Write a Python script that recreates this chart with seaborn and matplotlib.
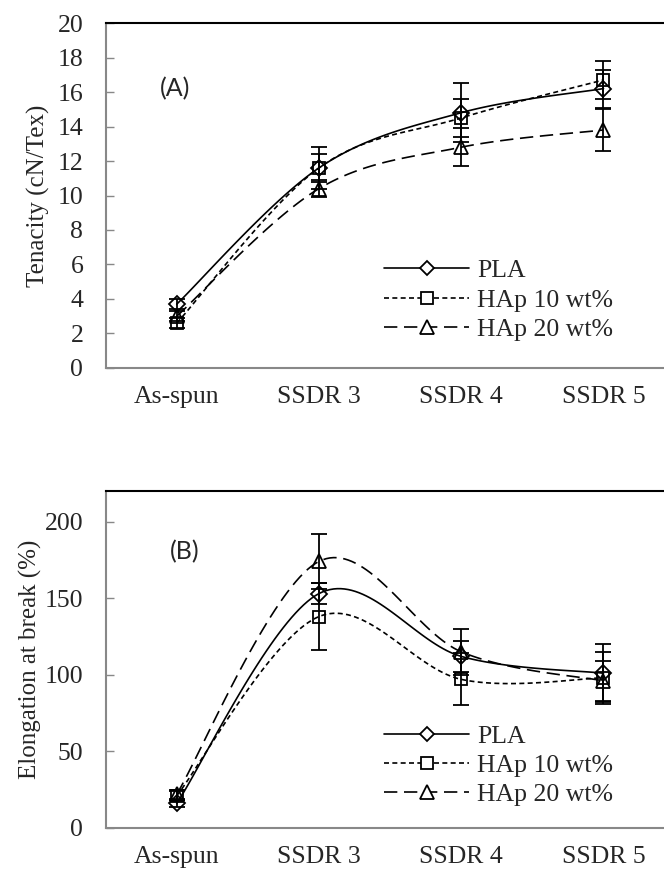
import numpy as np
import matplotlib
matplotlib.use("Agg")
import matplotlib.pyplot as plt
from matplotlib.lines import Line2D
import seaborn as sns

sns.set_style("white")
plt.rcParams['font.family'] = ['Liberation Serif', 'DejaVu Serif']

categories = ["As-spun", "SSDR 3", "SSDR 4", "SSDR 5"]
series = ["PLA", "HAp 10 wt%", "HAp 20 wt%"]

# (A) tenacity, cN/Tex
ten_pla = [3.7, 11.6, 14.8, 16.2]
ten_pla_err = [0.3, 1.2, 1.7, 1.1]
ten_h10 = [2.6, 11.6, 14.5, 16.7]
ten_h10_err = [0.3, 0.8, 1.1, 1.1]
ten_h20 = [3.0, 10.4, 12.8, 13.8]
ten_h20_err = [0.3, 0.5, 1.1, 1.2]

# (B) elongation at break, %
elo_pla = [16, 153, 112, 101]
elo_pla_err = [2, 7, 10, 19]
elo_h10 = [21, 138, 97, 98]
elo_h10_err = [3, 22, 17, 17]
elo_h20 = [22, 174, 115, 96]
elo_h20_err = [3, 18, 15, 13]

markers = ["D", "s", "^"]
msizes = [8, 9, 10.5]
styles = ["-", (0, (3, 2)), (0, (8, 4))]


def smooth(xv, yv, n=40):
    # excel-like smoothed line (bezier through the points)
    pts = np.column_stack([xv, yv]).astype(float)
    out = []
    for i in range(len(pts) - 1):
        p0 = pts[max(i - 1, 0)]
        p1 = pts[i]
        p2 = pts[i + 1]
        p3 = pts[min(i + 2, len(pts) - 1)]
        c1 = p1 + (p2 - p0) / 6
        c2 = p2 - (p3 - p1) / 6
        t = np.linspace(0, 1, n)[:, None]
        seg = (1 - t)**3 * p1 + 3 * (1 - t)**2 * t * c1 + 3 * (1 - t) * t**2 * c2 + t**3 * p2
        out.append(seg if i == 0 else seg[1:])
    return np.vstack(out)


def panel(ax, data, errs, ylim, yticks, ylabel, tag, tagpos, legpos):
    x = np.arange(len(categories))
    for k in range(3):
        sm = smooth(x, data[k])
        sns.lineplot(x=sm[:, 0], y=sm[:, 1], ax=ax, color="black", linewidth=1.2,
                     linestyle=styles[k], sort=False, estimator=None, zorder=2)
    for k in range(3):
        ax.errorbar(x, data[k], yerr=errs[k], fmt=markers[k], ms=msizes[k],
                    mfc="none", mec="black", mew=1.3, ecolor="black",
                    elinewidth=1.3, capsize=6, capthick=1.3, zorder=3)
    ax.set_xlim(-0.5, 3.5)
    ax.set_ylim(*ylim)
    ax.set_yticks(yticks)
    ax.set_xticks(x)
    ax.set_xticklabels(categories)
    ax.set_xticks(np.arange(len(categories) + 1) - 0.5, minor=True)
    ax.tick_params(axis="x", which="major", length=0, labelsize=18.5, pad=13)
    ax.tick_params(axis="x", which="minor", length=5, direction="in", color="#888888", width=1)
    ax.tick_params(axis="y", length=6, direction="in", color="#888888", width=1,
                   labelsize=18.5, pad=16, left=True)
    for s in ["left", "bottom"]:
        ax.spines[s].set_color("#888888")
        ax.spines[s].set_linewidth(1.5)
    ax.spines["top"].set_color("black")
    ax.spines["top"].set_linewidth(1.5)
    ax.spines["right"].set_visible(False)
    ax.set_ylabel(ylabel, fontsize=18)
    ax.set_xlabel("")
    ax.text(tagpos[0], tagpos[1], tag, transform=ax.transAxes, fontsize=18,
            family="Lato", va="center", ha="left")
    handles = [Line2D([], [], color="black", linestyle=styles[k], linewidth=1.2,
                      marker=markers[k], ms=msizes[k] - 1, mfc="white", mec="black", mew=1.3)
               for k in range(3)]
    ax.legend(handles, series, loc="upper left", bbox_to_anchor=legpos, frameon=False,
              fontsize=18.5, handlelength=3.3, handletextpad=0.3, labelspacing=0.25,
              borderaxespad=0)


fig = plt.figure(figsize=(6.64, 8.72), dpi=100)
ax1 = fig.add_axes([0.159, 0.578, 0.857, 0.3956])
ax2 = fig.add_axes([0.159, 0.0505, 0.857, 0.3865])

panel(ax1, [ten_pla, ten_h10, ten_h20], [ten_pla_err, ten_h10_err, ten_h20_err],
      (0, 20), np.arange(0, 21, 2), "Tenacity (cN/Tex)", "(A)", (0.095, 0.81), (0.472, 0.345))
panel(ax2, [elo_pla, elo_h10, elo_h20], [elo_pla_err, elo_h10_err, elo_h20_err],
      (0, 220), np.arange(0, 201, 50), "Elongation at break (%)", "(B)", (0.113, 0.82), (0.472, 0.337))

ax1.yaxis.set_label_coords(-0.098, 0.5)
ax2.yaxis.set_label_coords(-0.112, 0.5)

fig.savefig("out.png", dpi=100)
